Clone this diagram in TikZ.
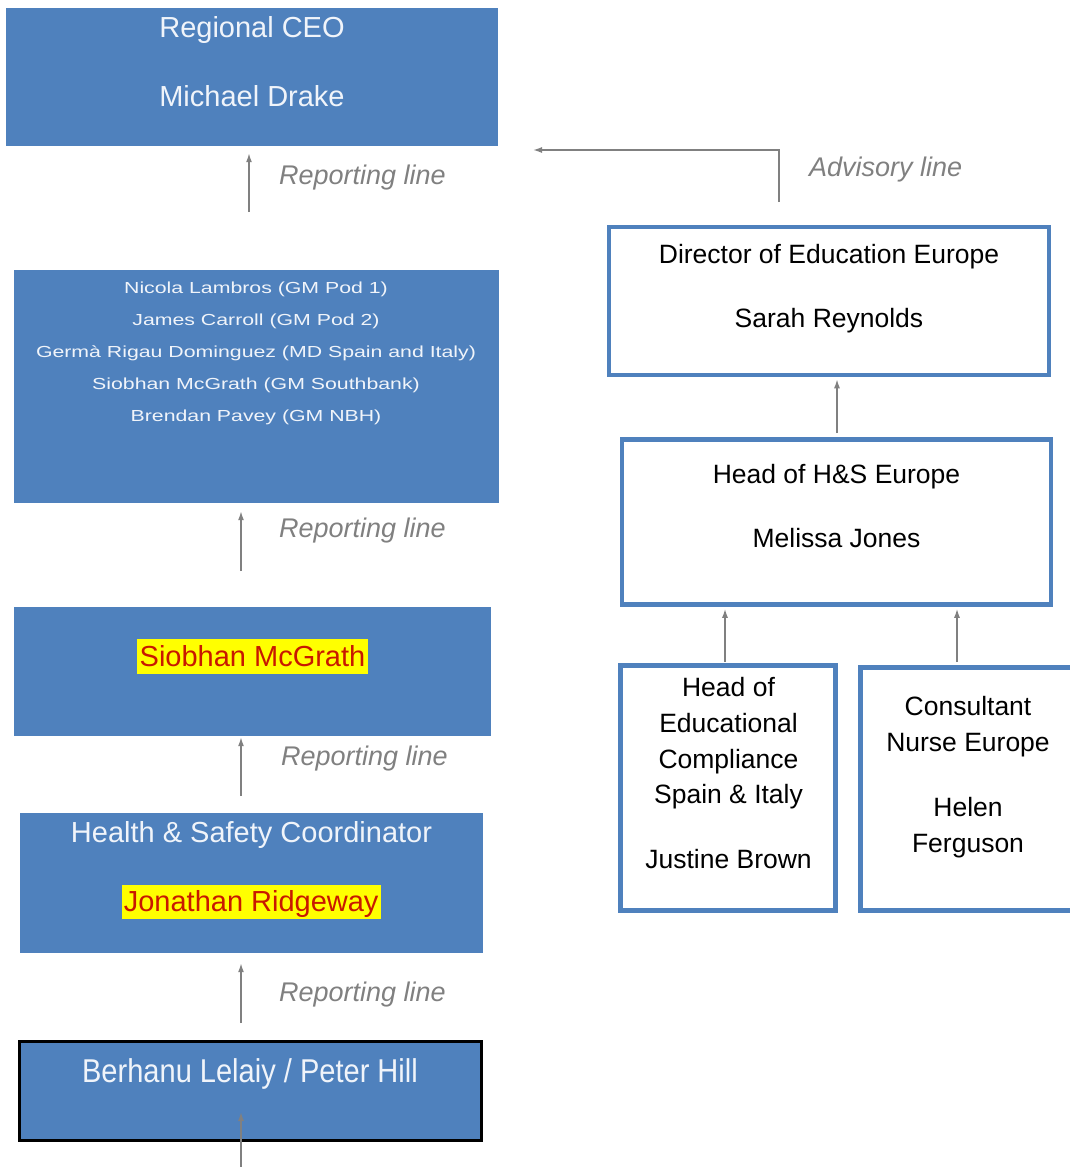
\documentclass[tikz,border=0pt]{standalone}
\usepackage{fontspec}
\setmainfont{Liberation Sans}
\newfontfamily\widefont[FakeStretch=1.33]{Liberation Sans}
\newfontfamily\narrowfont[FakeStretch=0.88]{Liberation Sans}
\usetikzlibrary{arrows.meta}
\definecolor{boxblue}{RGB}{79,129,189}
\definecolor{txtwhite}{RGB}{240,244,250}
\definecolor{linegray}{RGB}{128,128,128}
\definecolor{namered}{RGB}{200,24,0}
\definecolor{hiyellow}{RGB}{255,255,0}
\begin{document}
\begin{tikzpicture}[x=1pt,y=-1pt]
        \useasboundingbox (0,0) rectangle (1069,1167);
        % left column
        \begin{scope}[every node/.style={rectangle,fill=boxblue,inner sep=0pt}]
          \node[minimum width=492,minimum height=138] (ceo) at (252,77) {};
          \node[minimum width=485,minimum height=233] (pods) at (256.5,386.5) {};
          \node[minimum width=477,minimum height=129] (sio) at (252.5,671.5) {};
          \node[minimum width=463,minimum height=140] (hsc) at (251.5,883) {};
          \node[draw=black,line width=2.5pt,minimum width=462,minimum height=99] (staff) at (250.5,1091) {};
        \end{scope}
        % right column
        \begin{scope}[every node/.style={rectangle,draw=boxblue,fill=white,line width=4.5pt,inner sep=0pt}]
          \node[minimum width=440,minimum height=148] (dir) at (829,301) {};
          \node[minimum width=429,minimum height=165] (hs) at (836.5,522) {};
          \node[minimum width=215,minimum height=245] (edu) at (728,788) {};
          \node[minimum width=214,minimum height=243] (nurse) at (967.5,789) {};
        \end{scope}
        % white texts
        \begin{scope}[every node/.style={text=txtwhite,inner sep=0pt,text height=22pt,text depth=7pt,font=\fontsize{29}{35}\selectfont}]
          \node (ceo1) at (252,30) {Regional CEO};
          \node (ceo2) at (252,99) {Michael Drake};
          \node (hsc1) at (251.5,834.5) {Health \& Safety Coordinator};
        \end{scope}
        \begin{scope}[every node/.style={text=txtwhite,inner sep=0pt,text height=12pt,text depth=3.5pt,font=\widefont\fontsize{16}{19}\selectfont}]
          \node (pod1) at (256,289) {Nicola Lambros (GM Pod 1)};
          \node (pod2) at (256,321) {James Carroll (GM Pod 2)};
          \node (pod3) at (256,353) {Germà Rigau Dominguez (MD Spain and Italy)};
          \node (pod4) at (256,385) {Siobhan McGrath (GM Southbank)};
          \node (pod5) at (256,417) {Brendan Pavey (GM NBH)};
        \end{scope}
        \node[text=txtwhite,inner sep=0pt,text height=25pt,text depth=8pt,font=\narrowfont\fontsize{33}{40}\selectfont] (staff1) at (250,1074) {Berhanu Lelaiy / Peter Hill};
        % highlighted names
        \begin{scope}[every node/.style={fill=hiyellow,text=namered,inner xsep=2.3pt,inner ysep=0pt,text height=27pt,text depth=7.5pt,font=\fontsize{29}{35}\selectfont}]
          \node (sio1) at (252.5,656.3) {Siobhan McGrath};
          \node (hsc2) at (251.2,902) {Jonathan Ridgeway};
        \end{scope}
        % black texts
        \begin{scope}[every node/.style={text=black,inner sep=0pt,text height=20pt,text depth=6.5pt,font=\fontsize{26.5}{32}\selectfont}]
          \node (dir1) at (829,257) {Director of Education Europe};
          \node (dir2) at (829,321) {Sarah Reynolds};
          \node (hs1) at (836.5,477) {Head of H\&S Europe};
          \node (hs2) at (836.5,541) {Melissa Jones};
          \node (edu1) at (728.5,689.5) {Head of};
          \node (edu2) at (728.5,726) {Educational};
          \node (edu3) at (728.5,762) {Compliance};
          \node (edu4) at (728.5,797) {Spain \& Italy};
          \node (edu5) at (728.5,862) {Justine Brown};
          \node (nurse1) at (968,708.5) {Consultant};
          \node (nurse2) at (968,744.5) {Nurse Europe};
          \node (nurse3) at (968,809.5) {Helen};
          \node (nurse4) at (968,845.5) {Ferguson};
        \end{scope}
        % line labels
        \begin{scope}[every node/.style={text=linegray,anchor=west,inner sep=0pt,font=\itshape\fontsize{27}{32}\selectfont}]
          \node (lab1) at (279,178) {Reporting line};
          \node (lab2) at (279,531) {Reporting line};
          \node (lab3) at (281,759) {Reporting line};
          \node (lab4) at (279,994.5) {Reporting line};
          \node (lab5) at (809,170) {Advisory line};
        \end{scope}
        % connectors
        \coordinate (r1) at (249,212);
        \coordinate (r2) at (241,571);
        \coordinate (r3) at (241,796);
        \coordinate (r4) at (241,1023);
        \coordinate (r5) at (241,1167);
        \coordinate (r5e) at (241,1112);
        \coordinate (adv) at (779,202);
        \coordinate (adve) at (533,150);
        \coordinate (d1) at (837,433);
        \coordinate (d2) at (725,662);
        \coordinate (d3) at (957,662);
        \begin{scope}[every edge/.style={draw=linegray,line width=1.5pt,-{Latex[length=9pt,width=6pt]}}]
          \path (r1) edge[shorten >=7pt] (r1 |- ceo.south);
          \path (r2) edge[shorten >=8pt] (r2 |- pods.south);
          \path (r3) edge[shorten >=1pt] (r3 |- sio.south);
          \path (r4) edge[shorten >=10pt] (r4 |- hsc.south);
          \path (r5) edge (r5e);
          \path (d1) edge[shorten >=2pt] (d1 |- dir.south);
          \path (d2) edge[shorten >=2pt] (d2 |- hs.south);
          \path (d3) edge[shorten >=2pt] (d3 |- hs.south);
        \end{scope}
        \draw[linegray,line width=1.5pt,-{Latex[length=9pt,width=6pt]}] (adv) |- (adve);
      \end{tikzpicture}
\end{document}
